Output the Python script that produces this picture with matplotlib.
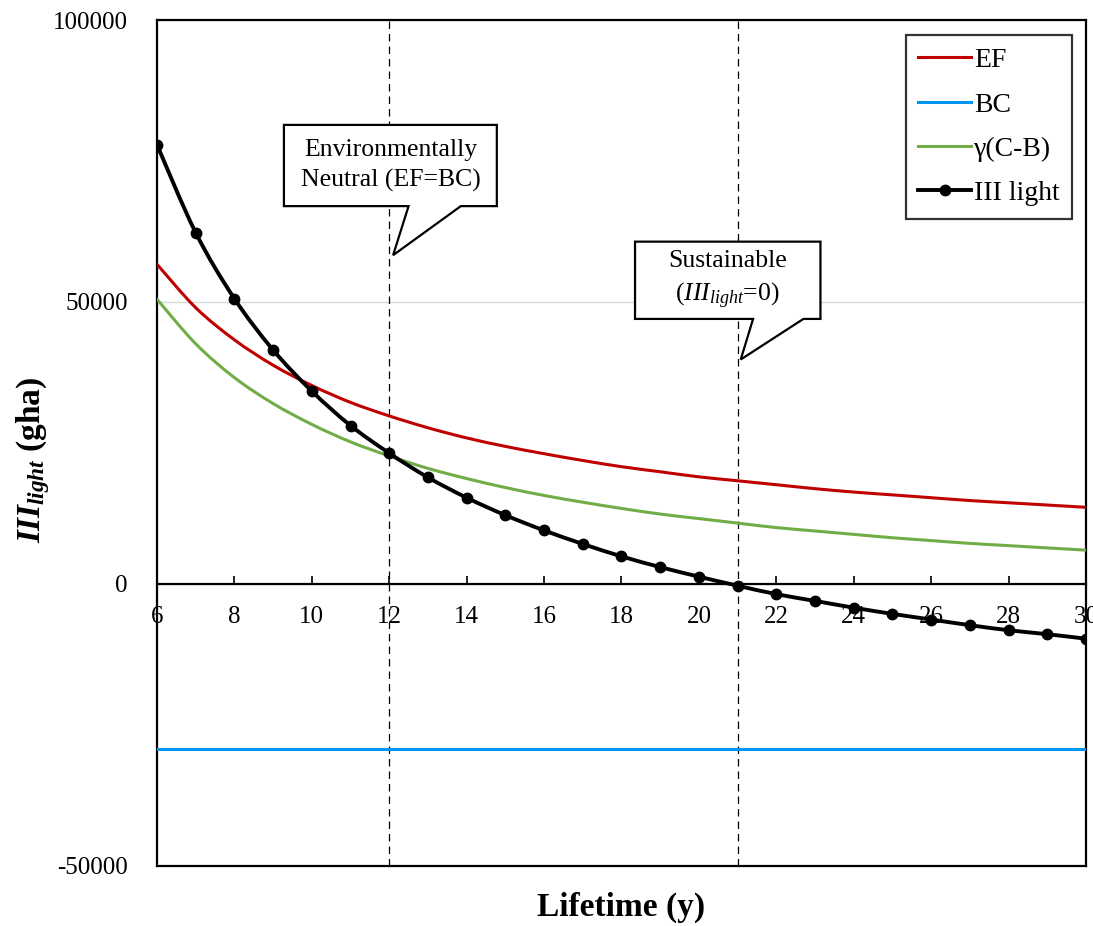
import numpy as np
import matplotlib
matplotlib.use('Agg')
import matplotlib.pyplot as plt
from matplotlib.patches import Polygon, PathPatch
from matplotlib.path import Path

plt.rcParams['font.family'] = 'Liberation Serif'
plt.rcParams['axes.unicode_minus'] = False
plt.rcParams['mathtext.fontset'] = 'custom'
plt.rcParams['mathtext.rm'] = 'Liberation Serif'
plt.rcParams['mathtext.it'] = 'Liberation Serif:italic'
plt.rcParams['mathtext.bf'] = 'Liberation Serif:bold'
plt.rcParams['mathtext.bfit'] = 'Liberation Serif:bold:italic'

# lifetime in years
lifetime = list(range(6, 31))

# ecological footprint
ef = [56700, 49000, 43300, 38800, 35200, 32200, 29800, 27700, 25900, 24400,
      23100, 21900, 20800, 19900, 19000, 18300, 17600, 16900, 16300, 15800,
      15300, 14800, 14400, 14000, 13600]

# biocapacity (constant)
bc = [-29300] * len(lifetime)

# gamma (C - B)
gamma_cb = [50500, 42600, 36600, 32000, 28300, 25200, 22700, 20500, 18700, 17100,
            15700, 14500, 13400, 12400, 11600, 10800, 10000, 9400, 8800, 8200,
            7700, 7200, 6800, 6400, 6000]

# III light
iii_light = [77900, 62300, 50600, 41500, 34200, 28100, 23200, 18900, 15300, 12200,
             9500, 7100, 4900, 3000, 1300, -300, -1800, -3000, -4200, -5300,
             -6300, -7300, -8200, -8900, -9700]

neutral_year = 12
sustainable_year = 21


def smooth_line(ax, x, y, **kw):
    # spreadsheet-style smoothed line: cubic bezier through every point
    p = np.column_stack([x, y]).astype(float)
    ext = np.vstack([p[0], p, p[-1]])
    verts = [p[0]]
    codes = [Path.MOVETO]
    for i in range(len(p) - 1):
        c1 = ext[i + 1] + (ext[i + 2] - ext[i]) / 6
        c2 = ext[i + 2] - (ext[i + 3] - ext[i + 1]) / 6
        verts += [c1, c2, p[i + 1]]
        codes += [Path.CURVE4] * 3
    ax.add_patch(PathPatch(Path(verts, codes), facecolor='none',
                           capstyle='round', **kw))


fig = plt.figure(figsize=(10.93, 9.26), dpi=100)
ax = fig.add_axes([0.1436, 0.0648, 0.85, 0.9136])

smooth_line(ax, lifetime, ef, edgecolor='#C00000', lw=2.2, zorder=3)
ax.plot(lifetime, bc, color='#0095F0', lw=2.2, zorder=3)
smooth_line(ax, lifetime, gamma_cb, edgecolor='#70AD47', lw=2.2, zorder=3)
smooth_line(ax, lifetime, iii_light, edgecolor='black', lw=2.8, zorder=5)
ax.plot(lifetime, iii_light, ls='none', color='black', marker='o', ms=7.5,
        zorder=5)

# legend handles
ax.plot([], [], color='#C00000', lw=2.2, label='EF')
ax.plot([], [], color='#0095F0', lw=2.2, label='BC')
ax.plot([], [], color='#70AD47', lw=2.2, label='γ(C-B)')
ax.plot([], [], color='black', lw=2.8, marker='o', ms=7.5, label='III light')

ax.axvline(neutral_year, color='black', lw=0.9, ls=(0, (6, 4)), zorder=1)
ax.axvline(sustainable_year, color='black', lw=0.9, ls=(0, (6, 4)), zorder=1)

ax.set_xlim(6, 30)
ax.set_ylim(-50000, 100000)
ax.set_xticks(range(6, 31, 2))
ax.set_yticks([-50000, 0, 50000, 100000])
ax.yaxis.grid(True, color='#D9D9D9', lw=1)
ax.set_axisbelow(True)

# x axis crosses at zero, frame closed underneath
ax.spines['bottom'].set_position(('data', 0))
for s in ax.spines.values():
    s.set_linewidth(1.6)
ax.axhline(-50000, color='black', lw=1.6, clip_on=False)

ax.tick_params(axis='x', direction='in', length=6, width=1.2, labelsize=18, pad=16)
ax.tick_params(axis='y', length=0, labelsize=18, pad=21)

ax.set_xlabel('Lifetime (y)', fontsize=24, fontweight='bold', labelpad=0)
ax.xaxis.set_label_coords(0.5, -0.03)
ax.set_ylabel(r'$\mathbfit{III}_{\mathbfit{light}}$ (gha)', fontsize=24,
              fontweight='bold')
ax.yaxis.set_label_coords(-0.113, 0.48)


def callout(x0, x1, y0, y1, bx0, bx1, tip, text):
    pts = [(x0, y1), (x1, y1), (x1, y0), (bx1, y0), tip, (bx0, y0), (x0, y0)]
    ax.add_patch(Polygon(pts, closed=True, facecolor='white', edgecolor='black',
                         lw=1.6, zorder=6))
    ax.text((x0 + x1) / 2, (y0 + y1) / 2, text, ha='center', va='center',
            fontsize=18.5, zorder=7, linespacing=1.45)


callout(9.28, 14.78, 67000, 81400, 12.5, 13.85, (12.1, 58300),
        'Environmentally\nNeutral (EF=BC)')
callout(18.35, 23.14, 47000, 60700, 21.4, 22.7, (21.08, 39800),
        'Sustainable\n($\\mathit{III}_{\\mathit{light}}$=0)')

leg = ax.legend(loc='upper right', bbox_to_anchor=(0.985, 0.982), fontsize=20,
                frameon=True, fancybox=False, edgecolor='black', handlelength=1.9,
                handletextpad=0.1, labelspacing=0.68, borderpad=0.45,
                borderaxespad=0)
leg.get_frame().set_linewidth(1.6)
leg.set_zorder(10)

fig.savefig('out.png', dpi=100)
